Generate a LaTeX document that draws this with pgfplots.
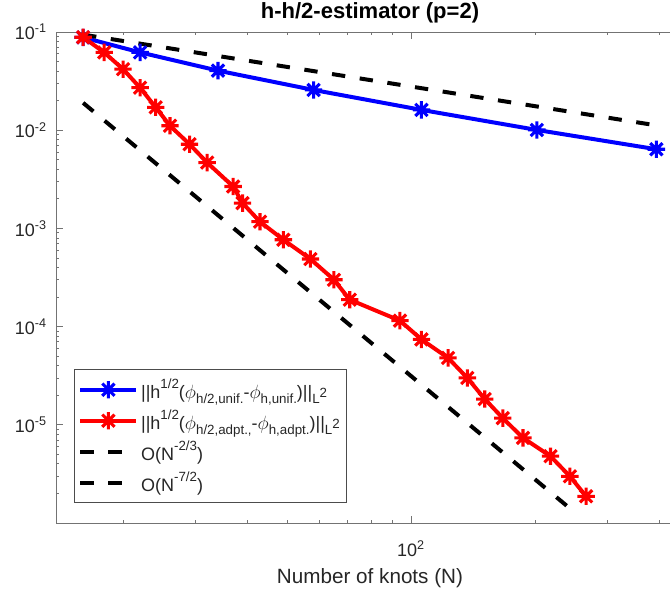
\documentclass[border=0pt]{standalone}
\usepackage{fontspec}
\setmainfont{Liberation Sans}
\usepackage{pgfplots}
\pgfplotsset{compat=1.18}

\pgfdeclareplotmark{mstar}{%
  \pgfpathmoveto{\pgfqpoint{-\pgfplotmarksize}{0pt}}%
  \pgfpathlineto{\pgfqpoint{\pgfplotmarksize}{0pt}}%
  \pgfpathmoveto{\pgfqpoint{0pt}{-\pgfplotmarksize}}%
  \pgfpathlineto{\pgfqpoint{0pt}{\pgfplotmarksize}}%
  \pgfpathmoveto{\pgfqpoint{-0.7071\pgfplotmarksize}{-0.7071\pgfplotmarksize}}%
  \pgfpathlineto{\pgfqpoint{0.7071\pgfplotmarksize}{0.7071\pgfplotmarksize}}%
  \pgfpathmoveto{\pgfqpoint{-0.7071\pgfplotmarksize}{0.7071\pgfplotmarksize}}%
  \pgfpathlineto{\pgfqpoint{0.7071\pgfplotmarksize}{-0.7071\pgfplotmarksize}}%
  \pgfusepathqstroke}

\newcommand\sps[1]{\raisebox{0.52em}{\fontsize{10}{12}\selectfont #1}}
\newcommand\sbs[1]{\raisebox{-0.32em}{\fontsize{10}{12}\selectfont #1}}
\newcommand\phis{$\phi$}

\begin{document}
\begin{tikzpicture}
\begin{axis}[
  scale only axis,
  width=471pt, height=368.25pt,
  xmode=log, ymode=log, log basis x=10, log basis y=10,
  xmin=13.75, xmax=459.8, ymin=1e-6, ymax=0.1,
  xtick={100},
  minor xtick={20,30,40,50,60,70,80,90,200,300,400},
  ytick={1e-5,1e-4,1e-3,1e-2,1e-1},
  minor ytick={2e-6,3e-6,4e-6,5e-6,6e-6,7e-6,8e-6,9e-6,
               2e-5,3e-5,4e-5,5e-5,6e-5,7e-5,8e-5,9e-5,
               2e-4,3e-4,4e-4,5e-4,6e-4,7e-4,8e-4,9e-4,
               2e-3,3e-3,4e-3,5e-3,6e-3,7e-3,8e-3,9e-3,
               2e-2,3e-2,4e-2,5e-2,6e-2,7e-2,8e-2,9e-2},
  xticklabel={10\textsuperscript{\pgfmathparse{int(round(\tick))}\pgfmathresult}},
  yticklabel={10\textsuperscript{\pgfmathparse{int(round(\tick))}\pgfmathresult}},
  ticklabel style={font=\fontsize{13.5}{16}\selectfont, text=black!85},
  yticklabel style={anchor=east, inner sep=0pt, xshift=-6.75pt},
  xticklabel style={anchor=base, inner sep=0pt, yshift=-25pt},
  axis line style={black!55, line width=0.6pt},
  every tick/.style={black!55, line width=0.6pt},
  major tick length=5pt, minor tick length=2.6pt,
  title={h-h/2-estimator (p=2)},
  title style={at={(0.5,1)}, anchor=base, yshift=4.5pt, inner sep=0pt,
    font=\fontsize{16.5}{19}\selectfont\bfseries, text=black},
  xlabel={Number of knots (N)},
  xlabel style={at={(0.5,0)}, anchor=base, yshift=-45pt, inner sep=0pt,
    font=\fontsize{15.5}{18}\selectfont, text=black!85},
  legend style={at={(0,0)}, anchor=south west, xshift=13.5pt, yshift=15pt,
    draw=black!70, line width=0.6pt, fill=white,
    font=\fontsize{13.5}{16}\selectfont, text=black!85,
    row sep=3.5pt, inner xsep=3pt, inner ysep=5pt},
  legend cell align=left,
  legend image code/.code={\draw[mark repeat=2,mark phase=2,#1] plot coordinates {(0pt,0pt) (21pt,0pt) (42pt,0pt)};},
]
\addplot[blue, line width=3pt, mark=mstar, mark size=6.5pt, mark options={solid, line width=2.3pt}]
  coordinates {(16,0.088)(22,0.062)(34,0.0404)(58,0.0257)(106,0.0161)(202,0.01006)(394,0.0064)};
\addlegendentry{||h\sps{1/2}(\phis\sbs{h/2,unif.}-\phis\sbs{h,unif.})||\sbs{L\sps{2}}}
\addplot[red, line width=3pt, mark=mstar, mark size=6.5pt, mark options={solid, line width=2.3pt}]
  coordinates {(16,0.0884)(18,0.062)(20,0.0418)(22,0.0271)(24,0.0171)(26,0.0111)(29,0.0072)(32,0.00468)
  (37,0.00267)(39,0.00181)(43,0.00117)(49,0.000766)(57,0.000488)(65,0.000300)(71,0.000188)
  (94,0.000115)(106,7.4e-5)(123,4.8e-5)(137,3.0e-5)(151,1.83e-5)(167,1.17e-5)(187,7.36e-6)
  (218,4.79e-6)(243,2.99e-6)(266,1.87e-6)};
\addlegendentry{||h\sps{1/2}(\phis\sbs{h/2,adpt.,}-\phis\sbs{h,adpt.})||\sbs{L\sps{2}}}
\addplot[black, line width=3pt, dash pattern=on 10pt off 11pt]
  coordinates {(16,0.094)(394,0.0112)};
\addlegendentry{O(N\sps{-2/3})}
\addplot[black, line width=3pt, dash pattern=on 10pt off 11pt]
  coordinates {(16,0.019)(252,1.24e-6)};
\addlegendentry{O(N\sps{-7/2})}
\end{axis}
\pgfresetboundingbox
\path[use as bounding box] ([xshift=-42pt,yshift=-51.75pt]current axis.south west) rectangle ([xshift=-10.5pt,yshift=24pt]current axis.north east);
\end{tikzpicture}
\end{document}
